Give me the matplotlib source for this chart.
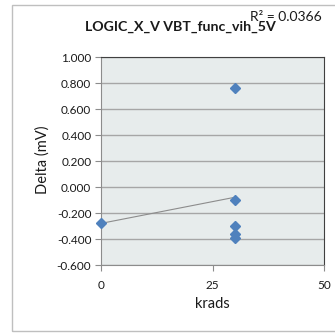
import numpy as np
import matplotlib
matplotlib.use("Agg")
import matplotlib.pyplot as plt
from matplotlib.patches import Rectangle

# Data
krads = [0, 30, 30, 30, 30, 30]
delta_mv = [-0.28, 0.76, -0.10, -0.30, -0.365, -0.39]
title = "LOGIC_X_V VBT_func_vih_5V"
r2_text = "R² = 0.0366"
xticks = [0, 25, 50]
yticks = [-0.6, -0.4, -0.2, 0.0, 0.2, 0.4, 0.6, 0.8, 1.0]

plt.rcParams['font.family'] = ['Lato', 'DejaVu Sans']
plt.rcParams['axes.unicode_minus'] = False

W = H = 335
fig = plt.figure(figsize=(3.35, 3.35), dpi=100)
fig.patch.set_facecolor('white')
fig.patches.append(Rectangle((12 / W, 1 - 331 / H), 1.2, (331 - 5) / H,
                             transform=fig.transFigure, fill=False,
                             edgecolor='#BFBFBF', lw=1.0))

ax = fig.add_axes([101 / W, 1 - 265 / H, (324 - 101) / W, (265 - 57) / H])
ax.set_facecolor('#E7ECEC')
ax.set_xlim(0, 50)
ax.set_ylim(-0.6, 1.0)
ax.set_xticks(xticks)
ax.set_yticks(yticks)
ax.set_yticklabels([f"{v:.3f}" for v in yticks])
ax.yaxis.grid(True, color='#A6A6A6', lw=1.0)
ax.set_axisbelow(True)
for s in ['left', 'bottom']:
    ax.spines[s].set_color('#8C8C8C')
for s in ['top', 'right']:
    ax.spines[s].set_color('#404040')
ax.tick_params(axis='both', direction='out', length=4, color='#8C8C8C',
               labelsize=8.5, labelcolor='#1A1A1A', width=0.8)
ax.tick_params(axis='y', pad=3)
ax.tick_params(axis='x', pad=7)

# trendline
x = np.array(krads, dtype=float)
y = np.array(delta_mv)
m, b = np.polyfit(x, y, 1)
xl = np.array([x.min(), x.max()])
ax.plot(xl, m * xl + b, color='#8C8C8C', lw=0.8, zorder=2)

ax.plot(krads, delta_mv, linestyle='none', marker='D', ms=5.3,
        color='#4F81BD', markeredgecolor='#4F81BD', zorder=3, clip_on=False)

fig.text(180 / W, 1 - 27 / H, title, ha='center', va='center',
         fontsize=10.2, fontweight='bold', color='#1A1A1A')
fig.text(250 / W, 1 - 17 / H, r2_text, ha='left', va='center',
         fontsize=10, color='#1A1A1A')
fig.text(43 / W, 1 - 160 / H, "Delta (mV)", rotation=90, ha='center',
         va='center', fontsize=10.5, color='#1A1A1A')
fig.text(212 / W, 1 - 304 / H, "krads", ha='center', va='center',
         fontsize=10.5, color='#1A1A1A')

fig.savefig("out.png", dpi=100)
